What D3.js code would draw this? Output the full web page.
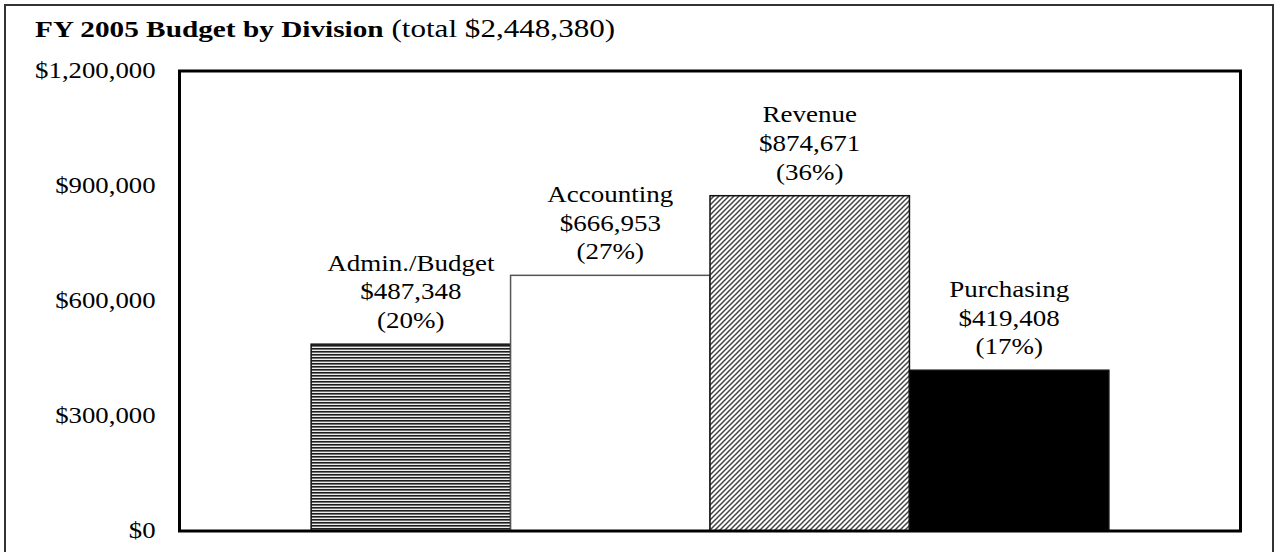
<!DOCTYPE html>
<html>
<head>
<meta charset="utf-8">
<script src="https://cdn.jsdelivr.net/npm/d3@7"></script>
<style>
  body { margin: 0; background: #fff; }
  svg { display: block; font-family: "Liberation Serif", "Times New Roman", serif; }
</style>
</head>
<body>
<div id="chart"></div>
<script>
// FY 2005 budget by division
const divisions = ['Admin./Budget', 'Accounting', 'Revenue', 'Purchasing'];
const budgets = [487348, 666953, 874671, 419408];
const shares = ['20%', '27%', '36%', '17%'];
const yTicks = [0, 300000, 600000, 900000, 1200000];

const width = 1275;
const height = 552;
const plot = { left: 179.5, right: 1240.5, top: 71, bottom: 531 };
const sx = 1.2; // the original text is drawn a bit wide

const svg = d3.select('#chart').append('svg')
  .attr('width', width)
  .attr('height', height);

const defs = svg.append('defs');

// horizontal line fill (Admin./Budget)
const hp = defs.append('pattern')
  .attr('id', 'hstripes')
  .attr('patternUnits', 'userSpaceOnUse')
  .attr('width', 8).attr('height', 3);
hp.append('rect').attr('width', 8).attr('height', 3).attr('fill', '#ececec');
hp.append('rect').attr('width', 8).attr('height', 1).attr('fill', '#1e1e1e');
hp.append('rect').attr('y', 1).attr('width', 8).attr('height', 1).attr('fill', '#707070');

// diagonal fill (Revenue)
const dp = defs.append('pattern')
  .attr('id', 'diag')
  .attr('patternUnits', 'userSpaceOnUse')
  .attr('width', 5).attr('height', 5);
dp.append('rect').attr('width', 5).attr('height', 5).attr('fill', '#fff');
dp.append('path')
  .attr('d', 'M-1,6 L6,-1 M-3.5,3.5 L3.5,-3.5 M1.5,8.5 L8.5,1.5')
  .attr('stroke', '#444')
  .attr('stroke-width', 1.5);

const fills = ['url(#hstripes)', '#fff', 'url(#diag)', '#000'];

// outer frame
svg.append('rect')
  .attr('x', 5).attr('y', 5)
  .attr('width', 1268).attr('height', 600)
  .attr('fill', 'none')
  .attr('stroke', '#333')
  .attr('stroke-width', 2);

const x = d3.scaleBand()
  .domain(divisions)
  .range([plot.left, plot.right])
  .paddingInner(0)
  .paddingOuter(0.66);

const y = d3.scaleLinear()
  .domain([0, 1200000])
  .range([plot.bottom, plot.top]);

// title
const title = svg.append('text')
  .attr('transform', `translate(35,37) scale(${sx + 0.02},1)`)
  .attr('font-size', 24);
title.append('tspan').attr('font-weight', 'bold').text('FY 2005 Budget by Division');
title.append('tspan').attr('font-size', 25.5).text(` (total ${d3.format('$,')(d3.sum(budgets))})`);

// y axis labels
const yAxis = svg.append('g')
  .attr('transform', `translate(${plot.left},0)`)
  .call(d3.axisLeft(y).tickValues(yTicks).tickFormat(d3.format('$,')).tickSize(0).tickPadding(0));
yAxis.select('.domain').remove();
yAxis.selectAll('text')
  .attr('font-family', 'Liberation Serif, serif')
  .attr('font-size', 22.3)
  .attr('fill', '#000')
  .attr('x', -24 / sx)
  .attr('dy', '0.3em')
  .attr('transform', `scale(${sx},1)`);

// bars
svg.append('g').selectAll('rect')
  .data(divisions)
  .join('rect')
  .attr('x', (d) => x(d))
  .attr('y', (d, i) => y(budgets[i]))
  .attr('width', x.bandwidth())
  .attr('height', (d, i) => y(0) - y(budgets[i]))
  .attr('fill', (d, i) => fills[i])
  .attr('stroke', (d, i) => (i === 1 ? '#555' : '#111'))
  .attr('stroke-width', 1.5);

// bar labels
const lineH = 28.7;
const labels = svg.append('g').selectAll('g')
  .data(divisions)
  .join('g')
  .attr('transform', (d, i) => `translate(${x(d) + x.bandwidth() / 2},${y(budgets[i]) - 16}) scale(${sx},1)`);

labels.each(function (d, i) {
  const lines = [d, d3.format('$,')(budgets[i]), `(${shares[i]})`];
  d3.select(this).selectAll('text')
    .data(lines)
    .join('text')
    .attr('text-anchor', 'middle')
    .attr('font-size', 22.5)
    .attr('y', (t, j) => (j - 2) * lineH)
    .text((t) => t);
});

// plot frame
svg.append('rect')
  .attr('x', plot.left).attr('y', plot.top)
  .attr('width', plot.right - plot.left)
  .attr('height', plot.bottom - plot.top)
  .attr('fill', 'none')
  .attr('stroke', '#000')
  .attr('stroke-width', 3);
</script>
</body>
</html>
